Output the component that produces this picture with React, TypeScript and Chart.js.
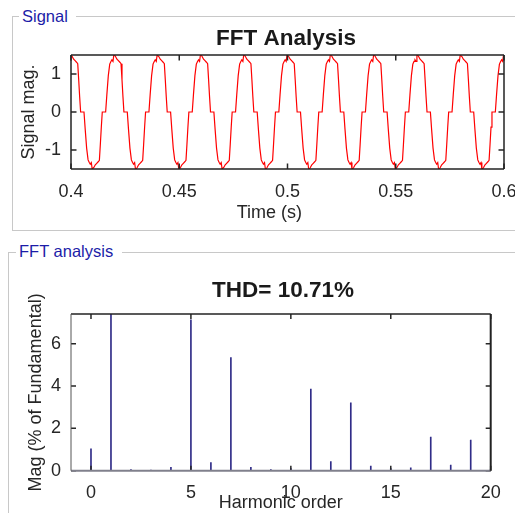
import React, { useEffect, useRef } from "react";
import { Chart, registerables } from "chart.js";

Chart.register(...registerables);

const FONT = "'Liberation Sans', Arial, Helvetica, sans-serif";

// ---------- Signal panel ----------
const SIGNAL_PANEL_LABEL = "Signal";
const SIGNAL_TITLE = "FFT Analysis";
const SIGNAL_X_LABEL = "Time (s)";
const SIGNAL_Y_LABEL = "Signal mag.";
const SIGNAL_X_TICKS = [0.4, 0.45, 0.5, 0.55, 0.6];
const SIGNAL_Y_TICKS = [-1, 0, 1];
const SIGNAL_PERIOD = 0.02;
// times of the positive peaks of each 50 Hz cycle
const CYCLE_PEAK_TIMES = [0.38, 0.4, 0.42, 0.44, 0.46, 0.48, 0.5, 0.52, 0.54, 0.56, 0.58, 0.6];
// one cycle of the waveform (phase in degrees from the peak)
const WAVE_PHASE_DEG = [
  -72, -62, -50, -38, -28, -20, -11, -4, 2, 10, 22, 34, 46, 56, 64, 72, 80,
  108, 118, 130, 142, 152, 160, 169, 176, 182, 190, 202, 214, 226, 236, 244, 252, 260,
];
const WAVE_VALUES = [
  0, 0.45, 0.95, 1.26, 1.33, 1.37, 1.33, 1.5, 1.5, 1.46, 1.39, 1.35, 1.31, 1.27, 0.85, 0.4, 0,
  0, -0.45, -0.95, -1.26, -1.33, -1.37, -1.33, -1.5, -1.5, -1.46, -1.39, -1.35, -1.31, -1.27, -0.85, -0.4, 0,
];

// ---------- FFT panel ----------
const FFT_PANEL_LABEL = "FFT analysis";
const FFT_TITLE = "THD= 10.71%";
const FFT_X_LABEL = "Harmonic order";
const FFT_Y_LABEL = "Mag (% of Fundamental)";
const FFT_X_TICKS = [0, 5, 10, 15, 20];
const FFT_Y_TICKS = [0, 2, 4, 6];
const HARMONICS = [0, 1, 2, 3, 4, 5, 6, 7, 8, 9, 10, 11, 12, 13, 14, 15, 16, 17, 18, 19, 20];
const MAGNITUDES = [
  1.03, 100, 0.05, 0.03, 0.16, 7.12, 0.38, 5.34, 0.16, 0.05, 0.1, 3.86, 0.43, 3.2, 0.22, 0.1, 0.13, 1.59,
  0.27, 1.45, 0.05,
];

type Side = { color: string; width: number };
type DecorCfg = {
  xTicks: number[];
  yTicks: number[];
  tickLen: number;
  tickWidth: number;
  box: { top: Side; right: Side; bottom: Side; left: Side };
  title: string;
  titleX: number;
  titleY: number;
  xLabel: string;
  xLabelX: number;
  xLabelY: number;
  xLabelAlign: CanvasTextAlign;
  yLabel: string;
  yLabelX: number;
  yLabelY: number;
};

function makeDecor(cfg: DecorCfg) {
  return {
    id: "decor",
    afterDatasetsDraw(chart: any) {
      const { ctx, chartArea: a, scales } = chart;
      ctx.save();
      ctx.strokeStyle = "#262626";
      ctx.lineWidth = cfg.tickWidth;
      ctx.beginPath();
      for (const v of cfg.xTicks) {
        const px = scales.x.getPixelForValue(v);
        ctx.moveTo(px, a.bottom);
        ctx.lineTo(px, a.bottom - cfg.tickLen);
        ctx.moveTo(px, a.top);
        ctx.lineTo(px, a.top + cfg.tickLen);
      }
      for (const v of cfg.yTicks) {
        const py = scales.y.getPixelForValue(v);
        ctx.moveTo(a.left, py);
        ctx.lineTo(a.left + cfg.tickLen, py);
        ctx.moveTo(a.right, py);
        ctx.lineTo(a.right - cfg.tickLen, py);
      }
      ctx.stroke();
      const line = (s: Side, x1: number, y1: number, x2: number, y2: number) => {
        ctx.beginPath();
        ctx.strokeStyle = s.color;
        ctx.lineWidth = s.width;
        ctx.moveTo(x1, y1);
        ctx.lineTo(x2, y2);
        ctx.stroke();
      };
      line(cfg.box.top, a.left, a.top, a.right, a.top);
      line(cfg.box.bottom, a.left, a.bottom, a.right, a.bottom);
      line(cfg.box.left, a.left, a.top, a.left, a.bottom);
      line(cfg.box.right, a.right, a.top, a.right, a.bottom);
      ctx.restore();
    },
    afterDraw(chart: any) {
      const { ctx } = chart;
      ctx.save();
      ctx.fillStyle = "#1a1a1a";
      ctx.textBaseline = "alphabetic";
      ctx.font = `bold 22.5px ${FONT}`;
      ctx.textAlign = "center";
      ctx.fillText(cfg.title, cfg.titleX, cfg.titleY);
      ctx.fillStyle = "#262626";
      ctx.font = `18px ${FONT}`;
      ctx.textAlign = cfg.xLabelAlign;
      ctx.fillText(cfg.xLabel, cfg.xLabelX, cfg.xLabelY);
      ctx.translate(cfg.yLabelX, cfg.yLabelY);
      ctx.rotate(-Math.PI / 2);
      ctx.textAlign = "center";
      ctx.fillText(cfg.yLabel, 0, 0);
      ctx.restore();
    },
  };
}

function signalPoints() {
  const pts: { x: number; y: number }[] = [];
  for (const peak of CYCLE_PEAK_TIMES) {
    WAVE_PHASE_DEG.forEach((deg, i) => {
      pts.push({ x: peak + (deg / 360) * SIGNAL_PERIOD, y: WAVE_VALUES[i] });
    });
  }
  return pts;
}

const fmt = (v: number) => String(Number(Number(v).toFixed(2)));

export default function App() {
  const topRef = useRef<HTMLCanvasElement>(null);
  const botRef = useRef<HTMLCanvasElement>(null);

  useEffect(() => {
    Chart.defaults.font.family = FONT;
    const tickFont = { size: 18, family: FONT };

    const c1 = new Chart(topRef.current!, {
      type: "line",
      data: {
        datasets: [
          {
            data: signalPoints(),
            borderColor: "#ff0000",
            borderWidth: 1.2,
            pointRadius: 0,
            tension: 0,
            clip: 0,
          } as any,
        ],
      },
      options: {
        animation: false,
        responsive: false,
        devicePixelRatio: 1,
        layout: { padding: { top: 55, right: 11, left: 0, bottom: 0 } },
        plugins: { legend: { display: false }, title: { display: false }, tooltip: { enabled: false } },
        scales: {
          x: {
            type: "linear",
            min: 0.4,
            max: 0.6,
            grid: { display: false, drawTicks: false },
            border: { display: false },
            ticks: { padding: 12.5, color: "#262626", font: tickFont, callback: (v: any) => fmt(v) },
            afterBuildTicks: (s: any) => {
              s.ticks = SIGNAL_X_TICKS.map((value) => ({ value }));
            },
            afterFit: (s: any) => {
              s.height = 71;
              s.paddingLeft = 0;
              s.paddingRight = 0;
            },
          },
          y: {
            type: "linear",
            min: -1.5,
            max: 1.5,
            grid: { display: false, drawTicks: false },
            border: { display: false },
            ticks: { padding: 10, color: "#262626", font: tickFont, callback: (v: any) => fmt(v) },
            afterBuildTicks: (s: any) => {
              s.ticks = SIGNAL_Y_TICKS.map((value) => ({ value }));
            },
            afterFit: (s: any) => {
              s.width = 71;
              s.paddingTop = 0;
              s.paddingBottom = 0;
            },
          },
        },
      } as any,
      plugins: [
        makeDecor({
          xTicks: SIGNAL_X_TICKS,
          yTicks: SIGNAL_Y_TICKS,
          tickLen: 5.5,
          tickWidth: 1.5,
          box: {
            top: { color: "#222", width: 1.5 },
            right: { color: "#222", width: 1.5 },
            bottom: { color: "#222", width: 1.5 },
            left: { color: "#222", width: 1.5 },
          },
          title: SIGNAL_TITLE,
          titleX: 286,
          titleY: 45,
          xLabel: SIGNAL_X_LABEL,
          xLabelX: 236.7,
          xLabelY: 218.3,
          xLabelAlign: "left",
          yLabel: SIGNAL_Y_LABEL,
          yLabelX: 33.5,
          yLabelY: 112,
        }) as any,
      ],
    });

    const c2 = new Chart(botRef.current!, {
      type: "bar",
      data: {
        datasets: [
          {
            data: HARMONICS.map((h, i) => ({ x: h, y: MAGNITUDES[i] })),
            backgroundColor: "#302c88",
            borderWidth: 0,
            barThickness: 1,
            clip: 0,
          } as any,
        ],
      },
      options: {
        animation: false,
        responsive: false,
        devicePixelRatio: 1,
        layout: { padding: { top: 74, right: 24.3, left: 0, bottom: 0 } },
        plugins: { legend: { display: false }, title: { display: false }, tooltip: { enabled: false } },
        scales: {
          x: {
            type: "linear",
            min: -1,
            max: 20,
            offset: false,
            grid: { display: false, drawTicks: false },
            border: { display: false },
            ticks: { padding: 12, color: "#262626", font: tickFont },
            afterBuildTicks: (s: any) => {
              s.ticks = FFT_X_TICKS.map((value) => ({ value }));
            },
            afterFit: (s: any) => {
              s.height = 42.3;
              s.paddingLeft = 0;
              s.paddingRight = 0;
            },
          },
          y: {
            type: "linear",
            min: 0,
            max: 7.4,
            grid: { display: false, drawTicks: false },
            border: { display: false },
            ticks: { padding: 10, color: "#262626", font: tickFont },
            afterBuildTicks: (s: any) => {
              s.ticks = FFT_Y_TICKS.map((value) => ({ value }));
            },
            afterFit: (s: any) => {
              s.width = 71;
              s.paddingTop = 0;
              s.paddingBottom = 0;
            },
          },
        },
      } as any,
      plugins: [
        makeDecor({
          xTicks: FFT_X_TICKS,
          yTicks: FFT_Y_TICKS,
          tickLen: 5,
          tickWidth: 1.5,
          box: {
            top: { color: "#222", width: 1.5 },
            right: { color: "#222", width: 2 },
            bottom: { color: "#80808c", width: 2 },
            left: { color: "#555", width: 1 },
          },
          title: FFT_TITLE,
          titleX: 283,
          titleY: 56.7,
          xLabel: FFT_X_LABEL,
          xLabelX: 280.7,
          xLabelY: 268.3,
          xLabelAlign: "center",
          yLabel: FFT_Y_LABEL,
          yLabelX: 41,
          yLabelY: 152.4,
        }) as any,
      ],
    });

    return () => {
      c1.destroy();
      c2.destroy();
    };
  }, []);

  const legendStyle: React.CSSProperties = {
    position: "absolute",
    background: "#fff",
    color: "#1c1ca8",
    fontFamily: FONT,
    fontSize: 16.5,
    lineHeight: "16.5px",
    whiteSpace: "nowrap",
  };

  return (
    <div
      style={{
        position: "fixed",
        left: 0,
        top: 0,
        width: 515,
        height: 513,
        background: "#fff",
        overflow: "hidden",
      }}
    >
      <div
        style={{
          position: "absolute",
          left: 12,
          top: 16,
          width: 600,
          height: 215,
          border: "1px solid #c8c8c8",
          boxSizing: "border-box",
        }}
      />
      <span style={{ ...legendStyle, left: 19, top: 8.3, padding: "0 8px 0 3px" }}>{SIGNAL_PANEL_LABEL}</span>
      <div
        style={{
          position: "absolute",
          left: 8,
          top: 252,
          width: 600,
          height: 400,
          border: "1px solid #c8c8c8",
          boxSizing: "border-box",
        }}
      />
      <span style={{ ...legendStyle, left: 16, top: 243.3, padding: "0 9px 0 3px" }}>{FFT_PANEL_LABEL}</span>
      <canvas ref={topRef} width={515} height={240} style={{ position: "absolute", left: 0, top: 0 }} />
      <canvas ref={botRef} width={515} height={273} style={{ position: "absolute", left: 0, top: 240 }} />
    </div>
  );
}
